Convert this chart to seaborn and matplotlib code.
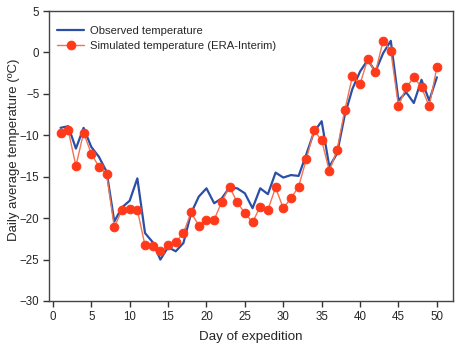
import matplotlib
matplotlib.use("Agg")
import matplotlib.pyplot as plt
import seaborn as sns
import pandas as pd

days = list(range(1, 51))
observed = [-9.1, -8.9, -11.6, -9.1, -11.4, -12.6, -14.4, -20.4, -18.7, -17.9,
            -15.2, -21.8, -22.9, -25.0, -23.5, -24.0, -23.0, -19.4, -17.4, -16.4,
            -18.2, -17.6, -16.3, -16.4, -17.0, -18.8, -16.4, -17.1, -14.5, -15.1,
            -14.8, -14.9, -12.3, -9.6, -8.3, -13.8, -12.2, -7.6, -4.4, -2.3,
            -0.9, -2.3, -0.1, 1.4, -5.8, -4.8, -6.1, -3.3, -5.8, -3.0]
simulated = [-9.7, -9.4, -13.7, -9.7, -12.2, -13.8, -14.7, -21.1, -19.0, -18.9,
             -19.0, -23.3, -23.4, -24.0, -23.3, -22.9, -21.8, -19.3, -20.9, -20.2,
             -20.2, -18.0, -16.2, -18.1, -19.4, -20.5, -18.6, -19.0, -16.3, -18.8,
             -17.6, -16.2, -12.9, -9.4, -10.6, -14.3, -11.8, -7.0, -2.9, -3.8,
             -0.8, -2.4, 1.4, 0.2, -6.5, -4.2, -3.0, -4.2, -6.5, -1.8]
x_ticks = [0, 5, 10, 15, 20, 25, 30, 35, 40, 45, 50]
y_ticks = [5, 0, -5, -10, -15, -20, -25, -30]

sns.set_style("white")
plt.rcParams['font.family'] = ['Liberation Sans', 'DejaVu Sans']

df = pd.DataFrame({"day": days, "observed": observed, "simulated": simulated})

fig = plt.figure(figsize=(4.56, 3.56), dpi=100)
ax = fig.add_axes([0.1075, 0.1545, 0.8859, 0.8145])

sns.lineplot(data=df, x="day", y="observed", ax=ax, color="#2B4FA6",
             linewidth=1.6, label="Observed temperature")
sns.lineplot(data=df, x="day", y="simulated", ax=ax, color="#F2734F",
             linewidth=1.0, marker="o", markersize=6.2, markerfacecolor="#FF3A1A",
             markeredgecolor="#FF3A1A", label="Simulated temperature (ERA-Interim)")

ax.set_xlim(-0.5, 52.1)
ax.set_ylim(-30, 5)
ax.set_xticks(x_ticks)
ax.set_yticks(y_ticks)
ax.tick_params(axis="both", direction="out", length=4, width=1, labelsize=8.3,
               color="#333333", left=True, bottom=True, pad=3)
for s in ax.spines.values():
    s.set_visible(True)
    s.set_color("#444444")
    s.set_linewidth(1.0)
ax.set_xlabel("Day of expedition", fontsize=9.6, labelpad=6)
ax.set_ylabel("Daily average temperature (ºC)", fontsize=9.5)
ax.yaxis.set_label_coords(-0.072, 0.52)

leg = ax.legend(loc="upper left", bbox_to_anchor=(8 / 404, 1 - 15 / 290),
                frameon=False, fontsize=8.1, handlelength=2.4,
                handletextpad=0.55, borderaxespad=0, borderpad=0,
                labelspacing=0.45)

fig.savefig("out.png", dpi=100)
